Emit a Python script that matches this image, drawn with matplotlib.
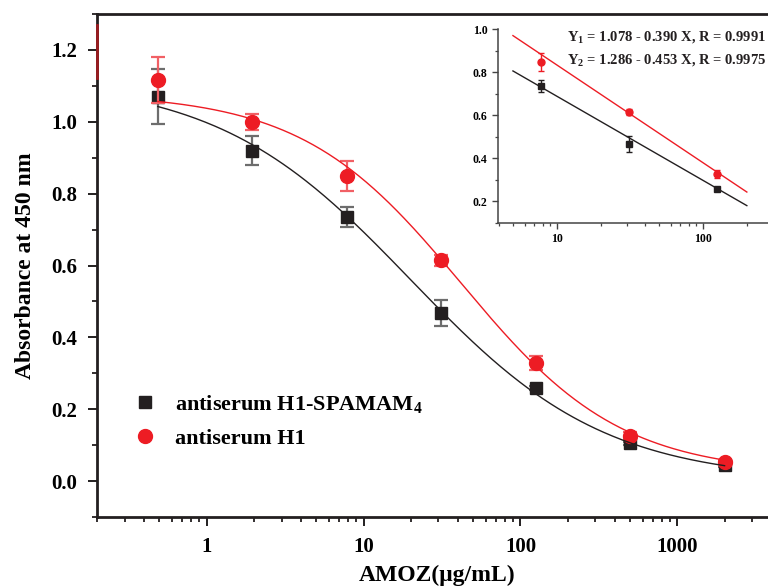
import numpy as np
import matplotlib
matplotlib.use("Agg")
import matplotlib.pyplot as plt
from matplotlib.lines import Line2D
from matplotlib.ticker import LogLocator, NullFormatter, MultipleLocator, FixedLocator

plt.rcParams['font.family'] = ['Liberation Serif', 'DejaVu Serif']
plt.rcParams['font.weight'] = 'bold'
plt.rcParams['mathtext.fontset'] = 'custom'
plt.rcParams['mathtext.rm'] = 'Liberation Serif:bold'
plt.rcParams['mathtext.it'] = 'Liberation Serif:bold'
plt.rcParams['mathtext.bf'] = 'Liberation Serif:bold'

# ---- data ----
conc = [0.488, 1.95, 7.81, 31.25, 125, 500, 2000]
abs_h1_spamam = [1.070, 0.920, 0.735, 0.468, 0.260, 0.105, 0.045]
err_h1_spamam = [0.077, 0.040, 0.028, 0.037, 0.006, 0.005, 0.005]
abs_h1 = [1.115, 1.000, 0.848, 0.615, 0.328, 0.126, 0.052]
err_h1 = [0.064, 0.022, 0.042, 0.015, 0.020, 0.010, 0.008]

# four-parameter logistic fit parameters (A top, B slope, C IC50, D bottom)
fit_h1_spamam = [1.12, 0.70, 20.0, 0.0]
fit_h1 = [1.08, 0.85, 42.0, 0.02]

# inset linear range
inset_conc = [7.81, 31.25, 125]
inset_lin_black = [1.078, 0.390]   # Y1 = a - b X
inset_lin_red = [1.286, 0.453]     # Y2 = a - b X
inset_line_range = [5, 200]

legend_labels = ['antiserum H1-SPAMAM$_4$', 'antiserum H1']
eq_texts = ['Y$_1$ = 1.078 - 0.390 X, R = 0.9991',
            'Y$_2$ = 1.286 - 0.453 X, R = 0.9975']

BLACK = '#231f20'
RED = '#ed1c24'

def fourpl(x, p):
    A, B, C, D = p
    return D + (A - D) / (1 + (x / C) ** B)

W, H = 768, 586
fig = plt.figure(figsize=(W / 100, H / 100), dpi=100)
ax = fig.add_axes([97 / W, (H - 517) / H, (787 - 97) / W, (517 - 14) / H])

xs = np.logspace(np.log10(conc[0]), np.log10(conc[-1]), 300)
ax.errorbar(conc, abs_h1_spamam, yerr=err_h1_spamam, fmt='none', ecolor='#6d6d6d',
            elinewidth=1.6, capsize=5, capthick=1.6, zorder=2)
ax.plot(conc, abs_h1_spamam, 's', color=BLACK, ms=8.5, zorder=3)
ax.errorbar(conc, abs_h1, yerr=err_h1, fmt='none', ecolor='#f16065',
            elinewidth=1.6, capsize=5, capthick=1.6, zorder=4)
ax.plot(conc, abs_h1, 'o', color=RED, ms=10, zorder=5)
ax.plot(xs, fourpl(xs, fit_h1_spamam), '-', color=BLACK, lw=1.0, zorder=6)
ax.plot(xs, fourpl(xs, fit_h1), '-', color=RED, lw=1.0, zorder=6)

ax.set_xscale('log')
ax.set_xlim(0.2, 5000)
ax.set_ylim(-0.1, 1.3)
ax.xaxis.set_major_locator(FixedLocator([1, 10, 100, 1000]))
ax.set_xticklabels(['1', '10', '100', '1000'])
ax.xaxis.set_minor_locator(LogLocator(base=10, subs=np.arange(2, 10), numticks=20))
ax.xaxis.set_minor_formatter(NullFormatter())
ax.yaxis.set_major_locator(FixedLocator([0.0, 0.2, 0.4, 0.6, 0.8, 1.0, 1.2]))
ax.set_yticklabels(['0.0', '0.2', '0.4', '0.6', '0.8', '1.0', '1.2'])
ax.yaxis.set_minor_locator(MultipleLocator(0.1))
ax.tick_params(axis='both', which='major', direction='out', length=6.5, width=1.4,
               labelsize=15, pad=8, color='#231f20')
ax.tick_params(axis='both', which='minor', direction='out', length=3.5, width=1.3,
               color='#231f20')
for s in ['left', 'bottom', 'top']:
    ax.spines[s].set_linewidth(2.0)
    ax.spines[s].set_color('#231f20')
ax.spines['right'].set_visible(False)
ax.plot([0.2, 0.2], [1.122, 1.269], color='#9b1c20', lw=2.0, clip_on=False, zorder=10)

ax.set_xlabel('AMOZ(μg/mL)', fontsize=17, fontweight='bold')
ax.set_ylabel('Absorbance at 450 nm', fontsize=17, fontweight='bold', labelpad=11)
ax.xaxis.set_label_coords((437 - 97) / (787 - 97), -(575 - 517) / (517 - 14))
ax.xaxis.label.set_va('center')

handles = [Line2D([], [], ls='none', marker='s', color=BLACK, ms=8.5),
           Line2D([], [], ls='none', marker='o', color=RED, ms=10)]
leg = fig.legend(handles, legend_labels, loc='upper left',
                 bbox_to_anchor=(134 / W, (H - 393) / H), frameon=False,
                 fontsize=16, handlelength=0.95, handletextpad=0.9,
                 labelspacing=0.6, borderpad=0, borderaxespad=0)
for t in leg.get_texts():
    t.set_fontweight('bold')

# ---- inset ----
ai = fig.add_axes([498 / W, (H - 223) / H, (790 - 498) / W, (223 - 29) / H])
lx = np.logspace(np.log10(inset_line_range[0]), np.log10(inset_line_range[1]), 50)
ai.plot(lx, inset_lin_black[0] - inset_lin_black[1] * np.log10(lx), color=BLACK, lw=1.0)
ai.plot(lx, inset_lin_red[0] - inset_lin_red[1] * np.log10(lx), color=RED, lw=1.0)
ib = [abs_h1_spamam[conc.index(c)] for c in inset_conc]
ibe = [err_h1_spamam[conc.index(c)] for c in inset_conc]
ir = [abs_h1[conc.index(c)] for c in inset_conc]
ire = [err_h1[conc.index(c)] for c in inset_conc]
ai.errorbar(inset_conc, ib, yerr=ibe, fmt='s', color=BLACK, ms=4.5, ecolor=BLACK,
            elinewidth=1.0, capsize=2.5, capthick=1.0)
ai.errorbar(inset_conc, ir, yerr=ire, fmt='o', color=RED, ms=5, ecolor=RED,
            elinewidth=1.0, capsize=2.5, capthick=1.0)
ai.set_xscale('log')
ai.set_xlim(3.95, 395)
ai.set_ylim(0.1, 1.0)
ai.xaxis.set_major_locator(FixedLocator([10, 100]))
ai.set_xticklabels(['10', '100'])
ai.xaxis.set_minor_locator(LogLocator(base=10, subs=np.arange(2, 10), numticks=20))
ai.xaxis.set_minor_formatter(NullFormatter())
ai.yaxis.set_major_locator(FixedLocator([0.2, 0.4, 0.6, 0.8, 1.0]))
ai.set_yticklabels(['0.2', '0.4', '0.6', '0.8', '1.0'])
ai.yaxis.set_minor_locator(MultipleLocator(0.1))
ai.tick_params(axis='both', which='major', direction='out', length=4.5, width=1.0,
               labelsize=8.5, pad=3, color='#444444')
ai.tick_params(axis='both', which='minor', direction='out', length=2.2, width=0.9,
               color='#444444')
ai.spines['top'].set_visible(False)
ai.spines['right'].set_visible(False)
for s in ['left', 'bottom']:
    ai.spines[s].set_linewidth(1.1)
    ai.spines[s].set_color('#444444')
ai.patch.set_alpha(0)

fig.text(567 / W, (H - 41) / H, eq_texts[0], fontsize=10.5, fontweight='bold',
         ha='left', va='baseline', color=BLACK)
fig.text(567 / W, (H - 64) / H, eq_texts[1], fontsize=10.5, fontweight='bold',
         ha='left', va='baseline', color=BLACK)

fig.savefig('out.png', dpi=100)
